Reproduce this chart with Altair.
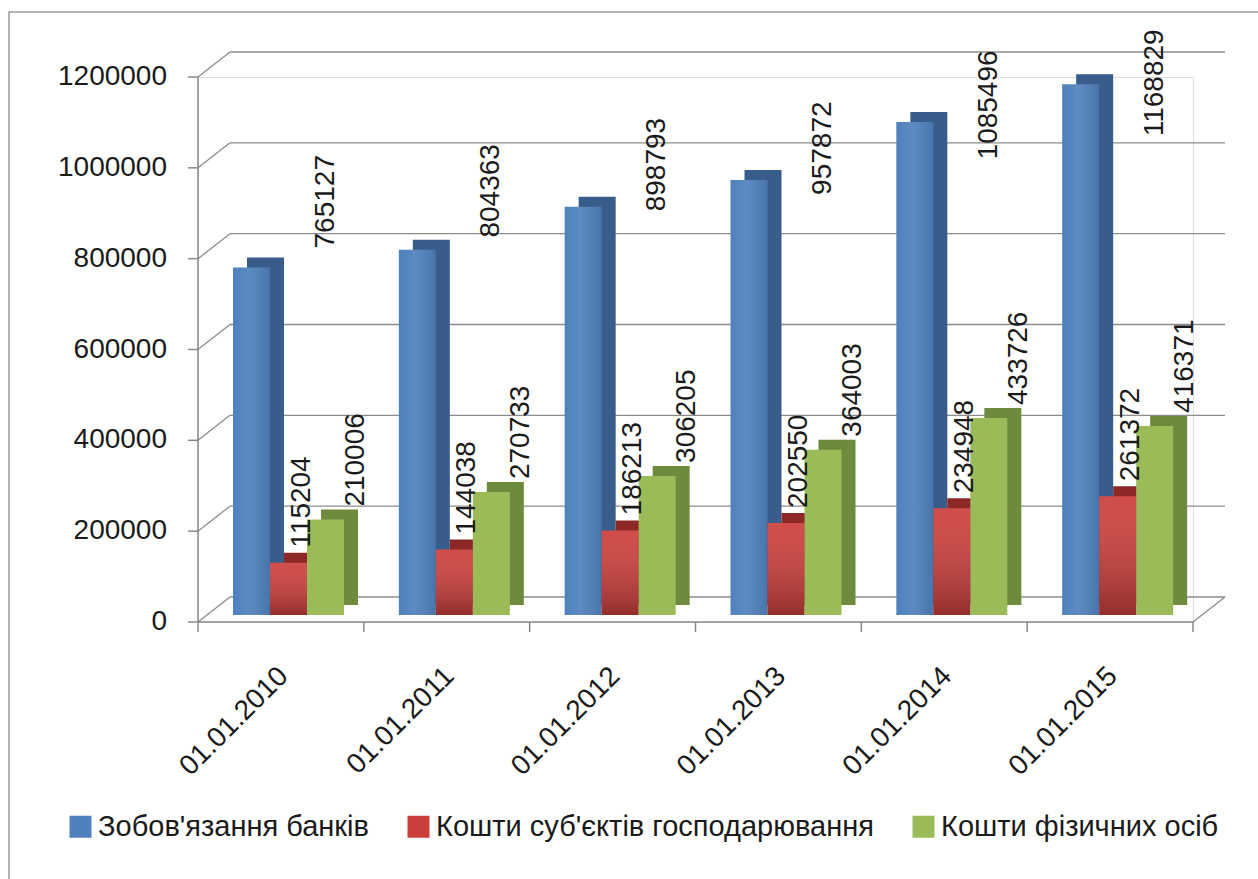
import altair as alt
import pandas as pd

# ---------------- data ----------------
dates = ["01.01.2010", "01.01.2011", "01.01.2012", "01.01.2013", "01.01.2014", "01.01.2015"]
series = ["Зобов'язання банків", "Кошти суб'єктів господарювання", "Кошти фізичних осіб"]
banks = [765127, 804363, 898793, 957872, 1085496, 1168829]
business = [115204, 144038, 186213, 202550, 234948, 261372]
individuals = [210006, 270733, 306205, 364003, 433726, 416371]
y_ticks = [0, 200000, 400000, 600000, 800000, 1000000, 1200000]

rows = []
for si, (name, vals) in enumerate(zip(series, [banks, business, individuals])):
    for ci, (d, v) in enumerate(zip(dates, vals)):
        rows.append({"date": d, "ci": ci, "series": name, "si": si, "value": v})
df = pd.DataFrame(rows)
cat_df = pd.DataFrame({"date": dates, "ci": list(range(len(dates)))})
bound_df = pd.DataFrame({"b": list(range(len(dates) + 1))})
tick_df = pd.DataFrame({"v": y_ticks})
one = pd.DataFrame({"a": [0]})

# ---------------- style ----------------
W, H = 995, 545
CAT = W / 6.0
LEAD = 35 / CAT
BW = 37 / CAT
DX, DY = 14, -10          # 3D depth of bars
BACK_X, BACK_Y = 32, -25  # depth of back wall
BASE = -7                 # bars sit slightly behind the front edge of floor
FONT = "Liberation Sans"
GRID = "#8c8c8c"
AXIS = "#888888"
TXT = "#1a1a1a"
front_cols = ["#4F81BD", "#CC3E3A", "#9BBB59"]
side_cols = ["#385D8A", "#8C2826", "#6E8B3D"]
YMAX = 1200000

yscale = alt.Scale(domain=[0, YMAX], nice=False, zero=False)
xscale = alt.Scale(domain=[0, 6], nice=False, zero=False)

base = alt.Chart(df).transform_calculate(
    x0=f"datum.ci + {LEAD} + datum.si * {BW}",
    x1=f"datum.ci + {LEAD} + (datum.si + 1) * {BW}",
    xc=f"datum.ci + {LEAD} + (datum.si + 0.5) * {BW}",
)

# frame around the whole picture
frame = alt.Chart(one).mark_rect(
    fillOpacity=0, stroke="#9a9a9a", strokeWidth=1.5
).encode(x=alt.value(-189), x2=alt.value(1120), y=alt.value(-65), y2=alt.value(840))

# back-wall gridlines
grid = alt.Chart(tick_df).mark_rule(color=GRID, strokeWidth=1.3, yOffset=BACK_Y).encode(
    y=alt.Y("v:Q", scale=yscale, axis=None),
    x=alt.value(BACK_X), x2=alt.value(W + BACK_X),
)
# side-wall diagonals
diag = alt.Chart(tick_df).mark_rule(color=GRID, strokeWidth=1.3, y2Offset=BACK_Y).encode(
    y=alt.Y("v:Q", scale=yscale, axis=None), y2="v:Q",
    x=alt.value(0), x2=alt.value(BACK_X),
)
floor_right = alt.Chart(pd.DataFrame({"v": [0]})).mark_rule(
    color=GRID, strokeWidth=1.3, y2Offset=BACK_Y
).encode(
    y=alt.Y("v:Q", scale=yscale, axis=None), y2="v:Q",
    x=alt.value(W), x2=alt.value(W + BACK_X),
)

# axes drawn by hand
y_dom = alt.Chart(one).mark_rule(color=AXIS, strokeWidth=1.5).encode(
    x=alt.value(0), y=alt.value(0), y2=alt.value(H))
y_tk = alt.Chart(tick_df).mark_rule(color=AXIS, strokeWidth=1.5).encode(
    y=alt.Y("v:Q", scale=yscale, axis=None), x=alt.value(-10), x2=alt.value(0))
y_lab = alt.Chart(tick_df).mark_text(
    align="right", baseline="middle", font=FONT, fontSize=28, color=TXT
).encode(
    y=alt.Y("v:Q", scale=yscale, axis=None), x=alt.value(-31),
    text=alt.Text("v:Q", format="d"),
)
x_dom = alt.Chart(one).mark_rule(color=AXIS, strokeWidth=1.5).encode(
    x=alt.value(0), x2=alt.value(W), y=alt.value(H))
x_tk = alt.Chart(bound_df).mark_rule(color=AXIS, strokeWidth=1.5).encode(
    x=alt.X("b:Q", scale=xscale, axis=None), y=alt.value(H), y2=alt.value(H + 10))

# bar side/top faces
sides = []
for i, s in enumerate(series):
    sides.append(
        base.transform_filter(alt.datum.si == i).mark_bar(
            color=side_cols[i], xOffset=DX, x2Offset=DX, yOffset=BASE + DY, y2Offset=BASE + DY
        ).encode(
            x=alt.X("x0:Q", scale=xscale, axis=None), x2="x1:Q",
            y=alt.Y("value:Q", scale=yscale, axis=None), y2=alt.datum(0),
        )
    )

# front faces (with legend)
front = base.mark_bar(yOffset=BASE, y2Offset=BASE).encode(
    x=alt.X("x0:Q", scale=xscale, axis=None),
    x2="x1:Q",
    y=alt.Y("value:Q", scale=yscale, axis=None), y2=alt.datum(0),
    color=alt.Color("series:N", scale=alt.Scale(domain=series, range=front_cols),
                    sort=series,
                    legend=alt.Legend(title=None, orient="none", direction="horizontal",
                                      legendX=-132, legendY=735, symbolType="square",
                                      symbolSize=484, symbolStrokeWidth=0, symbolOpacity=1,
                                      labelFont=FONT, labelFontSize=29, labelColor=TXT,
                                      labelOffset=3, columnPadding=35, padding=0,
                                      labelLimit=600)),
)

red_shade = base.transform_filter(alt.datum.si == 1).mark_bar(
    yOffset=BASE, y2Offset=BASE,
    color=alt.Gradient(gradient="linear", x1=0, x2=0, y1=0, y2=1, stops=[
        alt.GradientStop(color="rgba(255,255,255,0.08)", offset=0),
        alt.GradientStop(color="rgba(0,0,0,0.28)", offset=1),
    ]),
).encode(
    x=alt.X("x0:Q", scale=xscale, axis=None), x2="x1:Q",
    y=alt.Y("value:Q", scale=yscale, axis=None), y2=alt.datum(0),
)

blue_shade = base.transform_filter(alt.datum.si == 0).mark_bar(
    yOffset=BASE, y2Offset=BASE,
    color=alt.Gradient(gradient="linear", x1=0, x2=1, y1=0, y2=0, stops=[
        alt.GradientStop(color="rgba(255,255,255,0.0)", offset=0),
        alt.GradientStop(color="rgba(255,255,255,0.08)", offset=0.4),
        alt.GradientStop(color="rgba(0,0,0,0.10)", offset=1),
    ]),
).encode(
    x=alt.X("x0:Q", scale=xscale, axis=None), x2="x1:Q",
    y=alt.Y("value:Q", scale=yscale, axis=None), y2=alt.datum(0),
)

# value labels
lab_common = dict(angle=270, align="left", baseline="middle", font=FONT, fontSize=28, color=TXT)
lab_blue = base.transform_filter(alt.datum.si == 0).transform_calculate(
    ylab="933578 + 0.612 * (datum.value - 946747)"
).mark_text(xOffset=74, **lab_common).encode(
    x=alt.X("xc:Q", scale=xscale, axis=None),
    y=alt.Y("ylab:Q", scale=yscale, axis=None),
    text=alt.Text("value:Q", format="d"),
)
lab_red = base.transform_filter(alt.datum.si == 1).mark_text(
    xOffset=13, yOffset=BASE - 15, **lab_common
).encode(
    x=alt.X("xc:Q", scale=xscale, axis=None),
    y=alt.Y("value:Q", scale=yscale, axis=None),
    text=alt.Text("value:Q", format="d"),
)
lab_green = base.transform_filter(alt.datum.si == 2).mark_text(
    xOffset=30, yOffset=BASE - 13, **lab_common
).encode(
    x=alt.X("xc:Q", scale=xscale, axis=None),
    y=alt.Y("value:Q", scale=yscale, axis=None),
    text=alt.Text("value:Q", format="d"),
)

# category labels
cat_labels = alt.Chart(cat_df).transform_calculate(xc="datum.ci + 0.5").mark_text(
    angle=315, align="right", baseline="middle", font=FONT, fontSize=28, color=TXT, xOffset=3
).encode(
    x=alt.X("xc:Q", scale=xscale, axis=None),
    y=alt.value(H + 50),
    text="date:N",
)

chart = alt.layer(
    frame, grid, diag, floor_right, y_dom, y_tk, y_lab, x_dom, x_tk,
    *sides, front, blue_shade, red_shade,
    lab_blue, lab_red, lab_green, cat_labels
).properties(
    width=W, height=H,
    autosize=alt.AutoSizeParams(type="none"),
    padding={"left": 198, "top": 77, "right": 65, "bottom": 257},
).configure_view(stroke=None).configure(background="white")

chart.save("out.html", embed_options={"renderer": "svg", "actions": False})
